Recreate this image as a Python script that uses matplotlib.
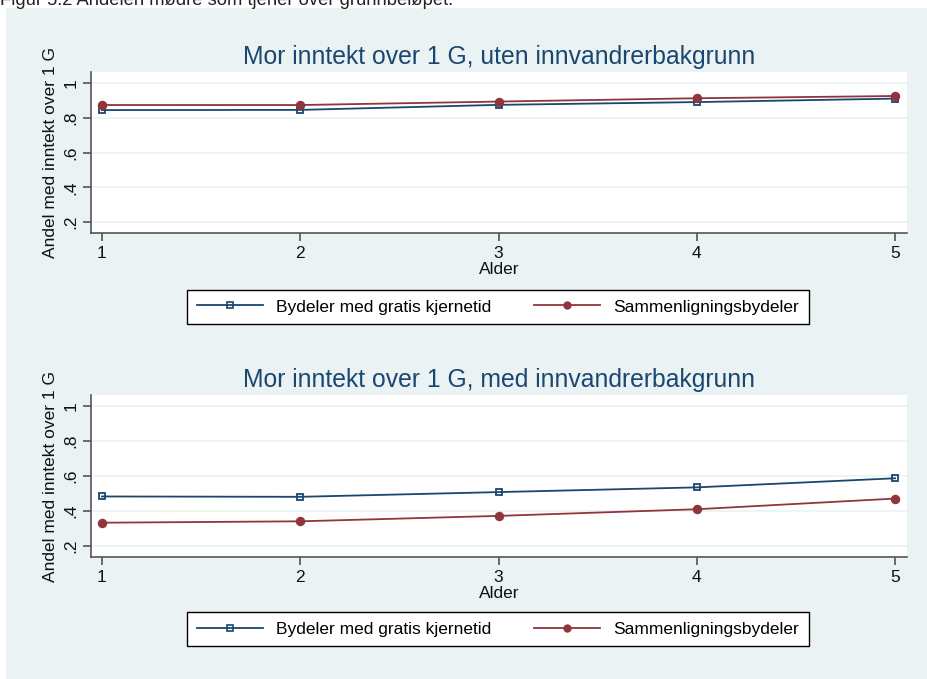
import matplotlib
matplotlib.use("Agg")
import matplotlib.pyplot as plt
from matplotlib.patches import Rectangle
from matplotlib.lines import Line2D

plt.rcParams['font.family'] = ['Liberation Sans', 'DejaVu Sans']

ages = [1, 2, 3, 4, 5]
series_names = ["Bydeler med gratis kjernetid", "Sammenligningsbydeler"]
top_title = "Mor inntekt over 1 G, uten innvandrerbakgrunn"
bottom_title = "Mor inntekt over 1 G, med innvandrerbakgrunn"
top_blue = [0.844, 0.845, 0.874, 0.890, 0.910]
top_red = [0.873, 0.873, 0.893, 0.912, 0.925]
bot_blue = [0.483, 0.481, 0.508, 0.535, 0.587]
bot_red = [0.333, 0.341, 0.372, 0.410, 0.471]
yticks = [0.2, 0.4, 0.6, 0.8, 1.0]
ytick_labels = [".2", ".4", ".6", ".8", "1"]
xlabel = "Alder"
ylabel = "Andel med inntekt over 1 G"
caption = "Figur 5.2 Andelen mødre som tjener over grunnbeløpet."

W, H = 927, 679
BLUE = "#1a476f"
RED = "#90353b"
BG = "#eaf2f3"

fig = plt.figure(figsize=(W / 100, H / 100), dpi=100)
fig.patch.set_facecolor("white")
fig.patches.append(Rectangle((6 / W, 0), 1 - 6 / W, 1 - 8 / H, transform=fig.transFigure,
                             facecolor=BG, edgecolor="none", zorder=-5))
fig.text(0.0, 1 - 5 / H, caption, fontsize=13.2, va="baseline", ha="left", color="#222222")


def px_axes(left, top, right, bottom):
    return fig.add_axes([left / W, 1 - bottom / H, (right - left) / W, (bottom - top) / H])


def panel(ax, title, blue, red, legend_center_y):
    ax.set_facecolor("white")
    for y in yticks:
        ax.axhline(y, color=BG, lw=1.2, zorder=1)
    ax.plot(ages, blue, color=BLUE, lw=1.3, marker="s", ms=5, mfc="none", mec=BLUE,
            mew=1.3, zorder=3, label=series_names[0])
    ax.plot(ages, red, color=RED, lw=1.3, marker="o", ms=5.8, mfc=RED, mec=RED,
            zorder=4, label=series_names[1])
    ax.set_xlim(0.945, 5.06)
    ax.set_ylim(0.137, 1.063)
    ax.set_xticks(ages)
    ax.set_xticklabels([str(a) for a in ages])
    ax.set_yticks(yticks)
    ax.set_yticklabels(ytick_labels, rotation=90, va="center")
    for s in ["top", "right"]:
        ax.spines[s].set_visible(False)
    for s in ["left", "bottom"]:
        ax.spines[s].set_color("#555555")
        ax.spines[s].set_linewidth(1.2)
    ax.tick_params(axis="both", direction="out", length=6, width=1.2, color="#555555",
                   labelsize=12.5, labelcolor="#111111", pad=3)
    ax.set_xlabel(xlabel, fontsize=12.5, labelpad=1, color="#111111")
    ax.set_ylabel(ylabel, fontsize=12.5, labelpad=4, color="#111111")
    ax.set_title(title, fontsize=17.8, color=BLUE, pad=6)
    handles = [Line2D([], [], color=BLUE, lw=1.3, marker="s", ms=4.5, mfc="none", mec=BLUE, mew=1.2),
               Line2D([], [], color=RED, lw=1.3, marker="o", ms=5, mfc=RED, mec=RED)]
    leg = fig.legend(handles, series_names, loc="center",
                     bbox_to_anchor=(498 / W, 1 - legend_center_y / H),
                     ncol=2, frameon=True, fancybox=False, fontsize=12.5, framealpha=1,
                     handlelength=3.8, handletextpad=0.75, columnspacing=2.5,
                     borderpad=0.55, borderaxespad=0)
    leg.get_frame().set_edgecolor("black")
    leg.get_frame().set_linewidth(1.0)
    leg.get_frame().set_facecolor("white")


ax1 = px_axes(91, 72, 907, 233)
panel(ax1, top_title, top_blue, top_red, 307)
ax2 = px_axes(91, 395, 907, 557)
panel(ax2, bottom_title, bot_blue, bot_red, 629)

fig.savefig("out.png", dpi=100, facecolor=fig.get_facecolor())
